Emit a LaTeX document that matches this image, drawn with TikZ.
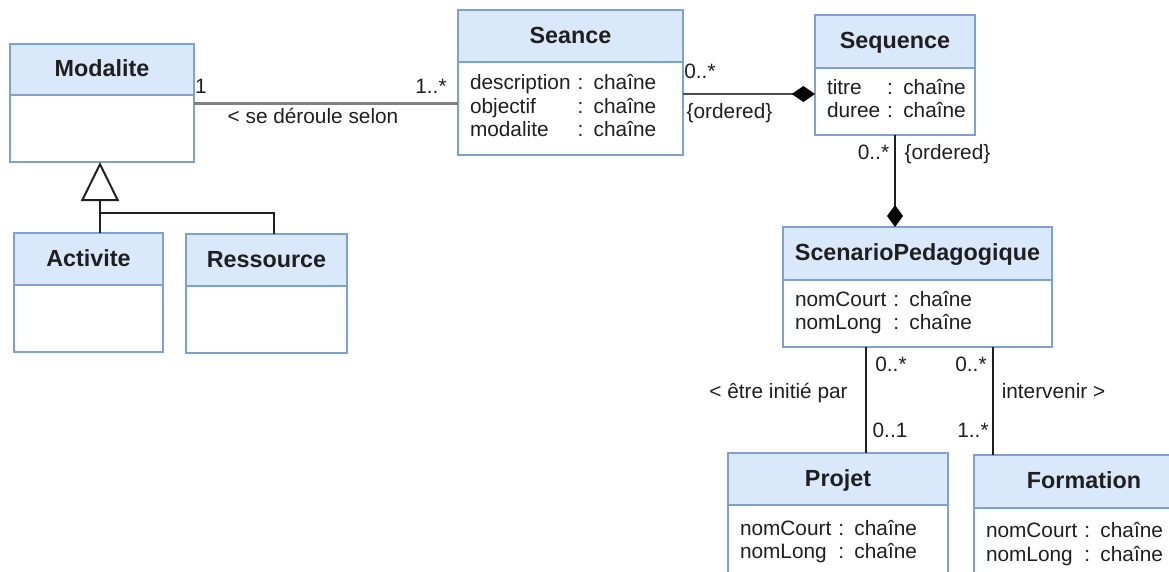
\documentclass[tikz,border=0pt]{standalone}
\usepackage{fontspec}
\setmainfont{Liberation Sans}
\usepackage{xcolor}
\usetikzlibrary{positioning,arrows.meta}

\definecolor{headfill}{HTML}{DAE8FC}
\definecolor{boxline}{HTML}{7EA1D4}
\definecolor{ink}{HTML}{1F1F1F}

\tikzset{
	head/.style={draw=boxline, fill=headfill, line width=1.4pt, outer sep=0pt, text=ink,
		font=\fontsize{16.6}{19}\selectfont\bfseries, text height=12pt, text depth=2pt},
	body/.style={draw=boxline, fill=white, line width=1.4pt, outer sep=0pt, inner xsep=0.3cm,
		inner ysep=0pt, align=left, text=ink, font=\fontsize{14.8}{16.7}\selectfont},
	lbl/.style={anchor=base, text=ink, font=\fontsize{14.8}{16.7}\selectfont},
	link/.style={line width=1.4pt, draw=ink},
}

\begin{document}
\begin{tikzpicture}
	\useasboundingbox (0,0) rectangle (29.225,14.275);

	% Classes
	\node[head, minimum width=4.6cm, minimum height=1.275cm] (mod) at (2.55, 12.5375) {Modalite};
	\node[body, text width=4cm, minimum height=1.675cm, below=0pt of mod] (modB) {};

	\node[head, minimum width=5.625cm, minimum height=1.3cm] (sea) at (14.2625, 13.375) {Seance};
	\node[body, text width=5.025cm, minimum height=2.325cm, below=0pt of sea] (seaB)
		{\begin{tabular}{@{}l@{\ }l@{}}description & : chaîne\\ objectif & : chaîne\\ modalite & : chaîne\end{tabular}};

	\node[head, minimum width=4cm, minimum height=1.325cm] (seq) at (22.375, 13.2375) {Sequence};
	\node[body, text width=3.4cm, minimum height=1.675cm, below=0pt of seq] (seqB)
		{\begin{tabular}{@{}l@{\ }l@{}}titre & : chaîne\\ duree & : chaîne\end{tabular}};

	\node[head, minimum width=3.725cm, minimum height=1.3cm] (act) at (2.2125, 7.8) {Activite};
	\node[body, text width=3.125cm, minimum height=1.675cm, below=0pt of act] (actB) {};

	\node[head, minimum width=4.025cm, minimum height=1.3cm] (res) at (6.6625, 7.775) {Ressource};
	\node[body, text width=3.425cm, minimum height=1.675cm, below=0pt of res] (resB) {};

	\node[head, minimum width=6.725cm, minimum height=1.325cm] (scen) at (22.9375, 7.9375) {ScenarioPedagogique};
	\node[body, text width=6.125cm, minimum height=1.675cm, below=0pt of scen] (scenB)
		{\begin{tabular}{@{}l@{\ }l@{}}nomCourt & : chaîne\\ nomLong & : chaîne\end{tabular}};

	\node[head, minimum width=5.5cm, minimum height=1.3cm] (proj) at (20.95, 2.3) {Projet};
	\node[body, text width=4.9cm, minimum height=1.875cm, below=0pt of proj] (projB)
		{\begin{tabular}{@{}l@{\ }l@{}}nomCourt & : chaîne\\ nomLong & : chaîne\end{tabular}};

	\node[head, minimum width=5.5cm, minimum height=1.325cm] (form) at (27.1, 2.2375) {Formation};
	\node[body, text width=4.9cm, minimum height=1.85cm, below=0pt of form] (formB)
		{\begin{tabular}{@{}l@{\ }l@{}}nomCourt & : chaîne\\ nomLong & : chaîne\end{tabular}};

	% Associations
	\coordinate (r1) at (0, 11.6875);
	\coordinate (r2) at (0, 11.925);
	\coordinate (c1) at (21.65, 0);
	\coordinate (c2) at (24.825, 0);
	\draw[line width=2.1pt, draw=black!50] (modB.east |- r1) -- (seaB.west |- r1);
	\draw[line width=2.1pt, draw=black!70, -{Diamond[length=0.58cm, width=0.4cm, color=black]}] (seaB.east |- r2) -- (seqB.west |- r2);
	\draw[link, -{Diamond[length=0.55cm, width=0.4cm, color=black]}] (seqB.south) -- (scen.north -| seqB.south);
	\draw[link] (scenB.south -| c1) -- (proj.north -| c1);
	\draw[link] (scenB.south -| c2) -- (form.north -| c2);

	% Generalisation
	\coordinate (split) at (2.5, 8.95);
	\draw[link, -{Triangle[open, fill=white, length=0.975cm, width=0.95cm]}] (split |- act.north) -- (split |- modB.south);
	\draw[link] (split) -| ([xshift=0.1875cm]res.north);

	% Multiplicities and roles
	\node[lbl] (m1) at (5.025, 11.95) {1};
	\node[lbl] (m2) at (10.775, 11.95) {1..*};
	\node[lbl] (m3) at (7.825, 11.2) {< se déroule selon};
	\node[lbl] (s1) at (17.5, 12.3) {0..*};
	\node[lbl] (s2) at (18.2375, 11.3) {\{ordered\}};
	\node[lbl] (q1) at (21.8375, 10.3) {0..*};
	\node[lbl] (q2) at (23.6875, 10.3) {\{ordered\}};
	\node[lbl] (p1) at (22.275, 5.0) {0..*};
	\node[lbl] (p2) at (19.4625, 4.325) {< être initié par};
	\node[lbl] (p3) at (22.25, 3.35) {0..1};
	\node[lbl] (f1) at (24.275, 5.0) {0..*};
	\node[lbl] (f2) at (26.3375, 4.325) {intervenir >};
	\node[lbl] (f3) at (24.325, 3.35) {1..*};
\end{tikzpicture}
\end{document}
